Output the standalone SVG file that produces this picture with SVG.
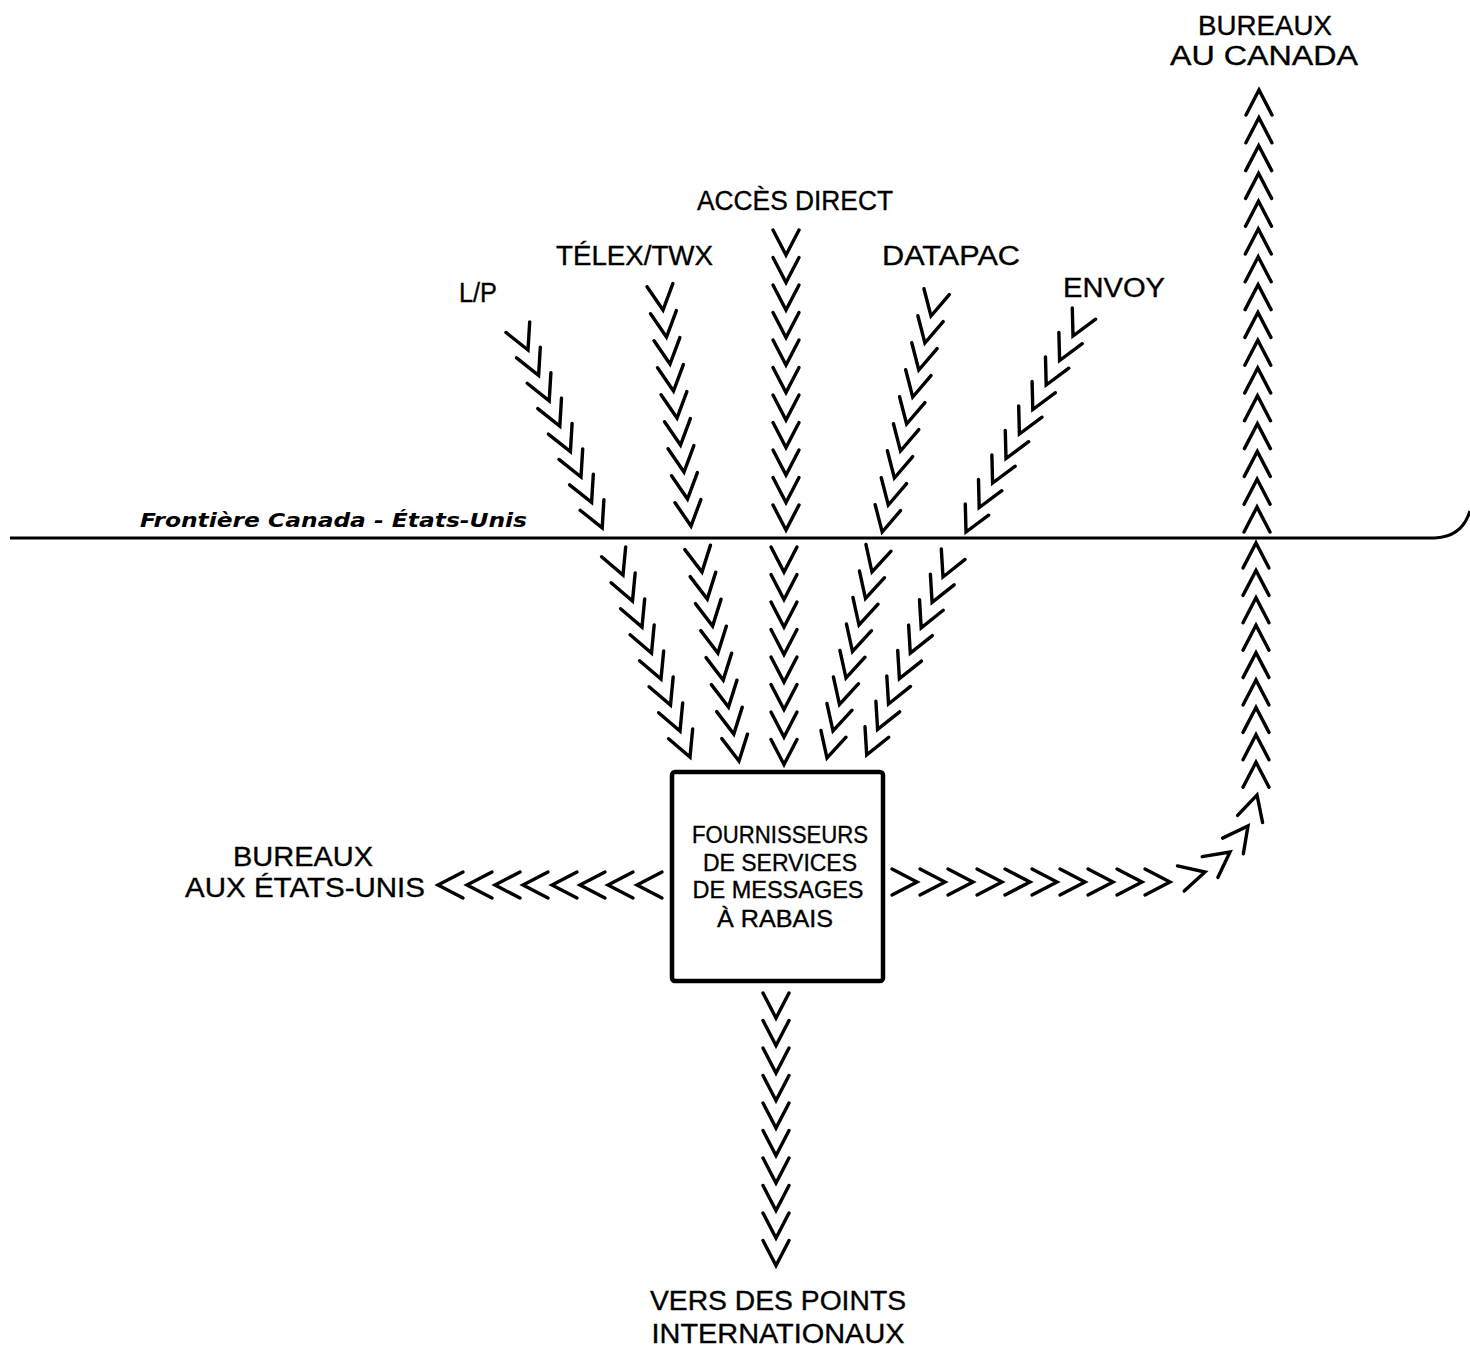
<svg xmlns="http://www.w3.org/2000/svg" width="1470" height="1350" viewBox="0 0 1470 1350">
  <style>
    .lbl{font-family:"Liberation Sans",Arial,sans-serif;font-size:27px;fill:#000;stroke:#000;stroke-width:0.35;text-anchor:middle}
    .box-lbl{font-size:23.5px}
    .border-lbl{font-family:"DejaVu Sans","Liberation Sans",sans-serif;font-weight:bold;font-style:italic;font-size:20px;fill:#000}
  </style>
  <defs>
    <!-- one chevron, tip at the origin pointing down -->
    <path id="v" d="M-13,-25 L0,0 L13,-25" fill="none" stroke="#000" stroke-width="3.4" stroke-linecap="round" stroke-linejoin="miter"/>
  </defs>
  <rect width="1470" height="1350" fill="#fff"/>

  <!-- border line -->
  <g id="border">
    <path d="M10,538 L1435,538 Q1462,537 1470,511" fill="none" stroke="#000" stroke-width="3"/>
    <text class="border-lbl" x="140" y="527" textLength="387" lengthAdjust="spacingAndGlyphs">Frontière Canada - États-Unis</text>
  </g>

  <!-- central node -->
  <g id="fournisseurs">
    <rect x="672" y="772" width="211" height="209" rx="3" fill="none" stroke="#000" stroke-width="4.5"/>
    <text class="lbl box-lbl" x="780" y="843" textLength="176" lengthAdjust="spacingAndGlyphs">FOURNISSEURS</text>
    <text class="lbl box-lbl" x="780" y="871" textLength="154" lengthAdjust="spacingAndGlyphs">DE SERVICES</text>
    <text class="lbl box-lbl" x="778" y="898" textLength="171" lengthAdjust="spacingAndGlyphs">DE MESSAGES</text>
    <text class="lbl box-lbl" x="775" y="927" textLength="116" lengthAdjust="spacingAndGlyphs">À RABAIS</text>
  </g>

  <!-- source and destination labels -->
  <g id="lp"><text class="lbl" x="478" y="302" textLength="38" lengthAdjust="spacingAndGlyphs">L/P</text></g>
  <g id="telex"><text class="lbl" x="634.5" y="265" textLength="157" lengthAdjust="spacingAndGlyphs">TÉLEX/TWX</text></g>
  <g id="acces-direct"><text class="lbl" x="795" y="210" textLength="196" lengthAdjust="spacingAndGlyphs">ACCÈS DIRECT</text></g>
  <g id="datapac"><text class="lbl" x="951" y="265" textLength="138" lengthAdjust="spacingAndGlyphs">DATAPAC</text></g>
  <g id="envoy"><text class="lbl" x="1114" y="297" textLength="102" lengthAdjust="spacingAndGlyphs">ENVOY</text></g>
  <g id="bureaux-canada">
    <text class="lbl" x="1265" y="35" textLength="134" lengthAdjust="spacingAndGlyphs">BUREAUX</text>
    <text class="lbl" x="1264" y="65" textLength="188" lengthAdjust="spacingAndGlyphs">AU CANADA</text>
  </g>
  <g id="bureaux-usa">
    <text class="lbl" x="303" y="866" textLength="140" lengthAdjust="spacingAndGlyphs">BUREAUX</text>
    <text class="lbl" x="305" y="897" textLength="240" lengthAdjust="spacingAndGlyphs">AUX ÉTATS-UNIS</text>
  </g>
  <g id="international">
    <text class="lbl" x="778" y="1310" textLength="256" lengthAdjust="spacingAndGlyphs">VERS DES POINTS</text>
    <text class="lbl" x="778" y="1343" textLength="253" lengthAdjust="spacingAndGlyphs">INTERNATIONAUX</text>
  </g>

  <!-- chevron flows -->
  <g id="connectors">
    <!-- L/P -->
    <use href="#v" transform="translate(528,350) rotate(-24)"/>
    <use href="#v" transform="translate(538.6,375.4) rotate(-24)"/>
    <use href="#v" transform="translate(549.2,400.8) rotate(-24)"/>
    <use href="#v" transform="translate(559.8,426.2) rotate(-24)"/>
    <use href="#v" transform="translate(570.4,451.6) rotate(-24)"/>
    <use href="#v" transform="translate(581,477) rotate(-24)"/>
    <use href="#v" transform="translate(591.6,502.4) rotate(-24)"/>
    <use href="#v" transform="translate(602.2,527.8) rotate(-24)"/>
    <use href="#v" transform="translate(623,575) rotate(-22)"/>
    <use href="#v" transform="translate(632.5,601) rotate(-22)"/>
    <use href="#v" transform="translate(642,627) rotate(-22)"/>
    <use href="#v" transform="translate(651.5,653) rotate(-22)"/>
    <use href="#v" transform="translate(661,679) rotate(-22)"/>
    <use href="#v" transform="translate(670.5,705) rotate(-22)"/>
    <use href="#v" transform="translate(680,731) rotate(-22)"/>
    <use href="#v" transform="translate(690,757) rotate(-22)"/>
    <!-- TELEX/TWX -->
    <use href="#v" transform="translate(663,310) rotate(-7)"/>
    <use href="#v" transform="translate(666.5,337) rotate(-7)"/>
    <use href="#v" transform="translate(670,364) rotate(-7)"/>
    <use href="#v" transform="translate(673.5,391) rotate(-7)"/>
    <use href="#v" transform="translate(677,418) rotate(-7)"/>
    <use href="#v" transform="translate(680.5,445) rotate(-7)"/>
    <use href="#v" transform="translate(684,472) rotate(-7)"/>
    <use href="#v" transform="translate(687.5,499) rotate(-7)"/>
    <use href="#v" transform="translate(691,526) rotate(-7)"/>
    <use href="#v" transform="translate(702,572) rotate(-10)"/>
    <use href="#v" transform="translate(707.3,599) rotate(-10)"/>
    <use href="#v" transform="translate(712.6,626) rotate(-10)"/>
    <use href="#v" transform="translate(717.9,653) rotate(-10)"/>
    <use href="#v" transform="translate(723.2,680) rotate(-10)"/>
    <use href="#v" transform="translate(728.5,707) rotate(-10)"/>
    <use href="#v" transform="translate(733.8,734) rotate(-10)"/>
    <use href="#v" transform="translate(739,761) rotate(-10)"/>
    <!-- ACCES DIRECT -->
    <use href="#v" transform="translate(786,255)"/>
    <use href="#v" transform="translate(786,282.5)"/>
    <use href="#v" transform="translate(786,310)"/>
    <use href="#v" transform="translate(786,337.5)"/>
    <use href="#v" transform="translate(786,365)"/>
    <use href="#v" transform="translate(786,392.5)"/>
    <use href="#v" transform="translate(786,420)"/>
    <use href="#v" transform="translate(786,447.5)"/>
    <use href="#v" transform="translate(786,475)"/>
    <use href="#v" transform="translate(786,502.5)"/>
    <use href="#v" transform="translate(786,530)"/>
    <use href="#v" transform="translate(784,572)"/>
    <use href="#v" transform="translate(784,599.5)"/>
    <use href="#v" transform="translate(784,627)"/>
    <use href="#v" transform="translate(784,654.5)"/>
    <use href="#v" transform="translate(784,682)"/>
    <use href="#v" transform="translate(784,709.5)"/>
    <use href="#v" transform="translate(784,737)"/>
    <use href="#v" transform="translate(784,764.5)"/>
    <!-- DATAPAC -->
    <use href="#v" transform="translate(931,316) rotate(13)"/>
    <use href="#v" transform="translate(924.9,343) rotate(13)"/>
    <use href="#v" transform="translate(918.8,370) rotate(13)"/>
    <use href="#v" transform="translate(912.7,397) rotate(13)"/>
    <use href="#v" transform="translate(906.6,424) rotate(13)"/>
    <use href="#v" transform="translate(900.5,451) rotate(13)"/>
    <use href="#v" transform="translate(894.4,478) rotate(13)"/>
    <use href="#v" transform="translate(888.3,505) rotate(13)"/>
    <use href="#v" transform="translate(882.2,532) rotate(13)"/>
    <use href="#v" transform="translate(872,572) rotate(15)"/>
    <use href="#v" transform="translate(865.5,598.5) rotate(15)"/>
    <use href="#v" transform="translate(859,625) rotate(15)"/>
    <use href="#v" transform="translate(852.5,651.5) rotate(15)"/>
    <use href="#v" transform="translate(846,678) rotate(15)"/>
    <use href="#v" transform="translate(839.5,704.5) rotate(15)"/>
    <use href="#v" transform="translate(833,731) rotate(15)"/>
    <use href="#v" transform="translate(827,758) rotate(15)"/>
    <!-- ENVOY -->
    <use href="#v" transform="translate(1073,336) rotate(26)"/>
    <use href="#v" transform="translate(1059.6,360.5) rotate(26)"/>
    <use href="#v" transform="translate(1046.2,385) rotate(26)"/>
    <use href="#v" transform="translate(1032.8,409.5) rotate(26)"/>
    <use href="#v" transform="translate(1019.4,434) rotate(26)"/>
    <use href="#v" transform="translate(1006,458.5) rotate(26)"/>
    <use href="#v" transform="translate(992.6,483) rotate(26)"/>
    <use href="#v" transform="translate(979.2,507.5) rotate(26)"/>
    <use href="#v" transform="translate(966,532) rotate(26)"/>
    <use href="#v" transform="translate(943,577) rotate(24)"/>
    <use href="#v" transform="translate(932.1,602.4) rotate(24)"/>
    <use href="#v" transform="translate(921.2,627.8) rotate(24)"/>
    <use href="#v" transform="translate(910.3,653.2) rotate(24)"/>
    <use href="#v" transform="translate(899.4,678.6) rotate(24)"/>
    <use href="#v" transform="translate(888.5,704) rotate(24)"/>
    <use href="#v" transform="translate(877.6,729.4) rotate(24)"/>
    <use href="#v" transform="translate(866.7,754.8) rotate(24)"/>
    <!-- toward offices in the United States -->
    <use href="#v" transform="translate(438,885) rotate(90)"/>
    <use href="#v" transform="translate(467,885) rotate(90)"/>
    <use href="#v" transform="translate(495,885) rotate(90)"/>
    <use href="#v" transform="translate(523,885) rotate(90)"/>
    <use href="#v" transform="translate(552,885) rotate(90)"/>
    <use href="#v" transform="translate(580,885) rotate(90)"/>
    <use href="#v" transform="translate(608,885) rotate(90)"/>
    <use href="#v" transform="translate(637,885) rotate(90)"/>
    <!-- toward offices in Canada -->
    <use href="#v" transform="translate(917,882) rotate(-90)"/>
    <use href="#v" transform="translate(945,882) rotate(-90)"/>
    <use href="#v" transform="translate(973,882) rotate(-90)"/>
    <use href="#v" transform="translate(1002,882) rotate(-90)"/>
    <use href="#v" transform="translate(1030,882) rotate(-90)"/>
    <use href="#v" transform="translate(1057,882) rotate(-90)"/>
    <use href="#v" transform="translate(1085,882) rotate(-90)"/>
    <use href="#v" transform="translate(1113,882) rotate(-90)"/>
    <use href="#v" transform="translate(1142,882) rotate(-90)"/>
    <use href="#v" transform="translate(1170,882) rotate(-90)"/>
    <use href="#v" transform="translate(1205,872) rotate(255)"/>
    <use href="#v" transform="translate(1230,852) rotate(233)"/>
    <use href="#v" transform="translate(1248,826) rotate(217)"/>
    <use href="#v" transform="translate(1257,795) rotate(196)"/>
    <use href="#v" transform="translate(1256,762.2) rotate(180)"/>
    <use href="#v" transform="translate(1256,734.8) rotate(180)"/>
    <use href="#v" transform="translate(1256,707.4) rotate(180)"/>
    <use href="#v" transform="translate(1256,680) rotate(180)"/>
    <use href="#v" transform="translate(1256,652.6) rotate(180)"/>
    <use href="#v" transform="translate(1256,625.2) rotate(180)"/>
    <use href="#v" transform="translate(1256,597.8) rotate(180)"/>
    <use href="#v" transform="translate(1256,570.4) rotate(180)"/>
    <use href="#v" transform="translate(1256,543) rotate(180)"/>
    <use href="#v" transform="translate(1257,507) rotate(180)"/>
    <use href="#v" transform="translate(1257.1,479.2) rotate(180)"/>
    <use href="#v" transform="translate(1257.3,451.4) rotate(180)"/>
    <use href="#v" transform="translate(1257.4,423.6) rotate(180)"/>
    <use href="#v" transform="translate(1257.5,395.8) rotate(180)"/>
    <use href="#v" transform="translate(1257.7,368) rotate(180)"/>
    <use href="#v" transform="translate(1257.8,340.2) rotate(180)"/>
    <use href="#v" transform="translate(1257.9,312.4) rotate(180)"/>
    <use href="#v" transform="translate(1258.1,284.6) rotate(180)"/>
    <use href="#v" transform="translate(1258.2,256.8) rotate(180)"/>
    <use href="#v" transform="translate(1258.3,229) rotate(180)"/>
    <use href="#v" transform="translate(1258.5,201.2) rotate(180)"/>
    <use href="#v" transform="translate(1258.6,173.4) rotate(180)"/>
    <use href="#v" transform="translate(1258.7,145.6) rotate(180)"/>
    <use href="#v" transform="translate(1258.9,117.8) rotate(180)"/>
    <use href="#v" transform="translate(1259,90) rotate(180)"/>
    <!-- toward international points -->
    <use href="#v" transform="translate(776,1018)"/>
    <use href="#v" transform="translate(776,1045.5)"/>
    <use href="#v" transform="translate(776,1073)"/>
    <use href="#v" transform="translate(776,1100.5)"/>
    <use href="#v" transform="translate(776,1128)"/>
    <use href="#v" transform="translate(776,1155.5)"/>
    <use href="#v" transform="translate(776,1183)"/>
    <use href="#v" transform="translate(776,1210.5)"/>
    <use href="#v" transform="translate(776,1238)"/>
    <use href="#v" transform="translate(776,1265.5)"/>
  </g>
</svg>
